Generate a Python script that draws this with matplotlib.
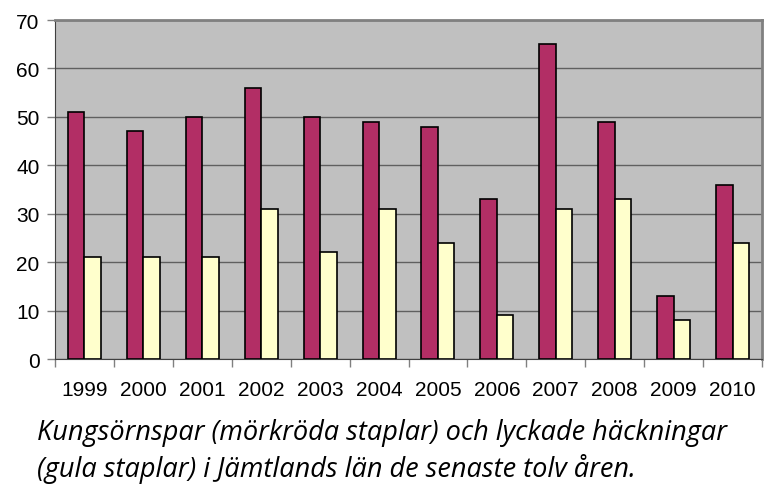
import matplotlib
matplotlib.use('Agg')
import matplotlib.pyplot as plt
import numpy as np

years = ['1999', '2000', '2001', '2002', '2003', '2004',
         '2005', '2006', '2007', '2008', '2009', '2010']
pairs = [51, 47, 50, 56, 50, 49, 48, 33, 65, 49, 13, 36]      # kungsörnspar
success = [21, 21, 21, 31, 22, 31, 24, 9, 31, 33, 8, 24]     # lyckade häckningar

fig = plt.figure(figsize=(7.64, 4.85), dpi=100)
ax = fig.add_axes([55/764, 1 - 360/485, 707/764, 339/485])
ax.set_facecolor('#C0C0C0')

x = np.arange(len(years))
w = 0.28
ax.bar(x - w/2, pairs, w, color='#B22E65', edgecolor='black', linewidth=1.2, zorder=3)
ax.bar(x + w/2, success, w, color='#FFFFCC', edgecolor='black', linewidth=1.2, zorder=3)

ax.set_xlim(-0.5, len(years) - 0.5)
ax.set_ylim(0, 70)
ax.set_yticks(range(0, 71, 10))
ax.yaxis.grid(True, color='#606060', linewidth=1, zorder=1)

ax.set_xticks(x)
ax.set_xticklabels(years, fontsize=15, family='Liberation Sans')
ax.tick_params(axis='x', length=0, pad=15)
ax.set_xticks(np.arange(-0.5, len(years) + 0.5, 1), minor=True)
ax.tick_params(axis='x', which='minor', length=6, color='#808080', width=1)
ax.tick_params(axis='y', length=6, color='#808080', width=1, labelsize=15, pad=5)
for lab in ax.get_yticklabels():
    lab.set_family('Liberation Sans')

for s in ['top', 'right']:
    ax.spines[s].set_color('#808080')
    ax.spines[s].set_linewidth(2)
ax.spines['left'].set_color('#404040')
ax.spines['bottom'].set_color('#404040')

fig.text(37/764, 1 - 440/485, 'Kungsörnspar (mörkröda staplar) och lyckade häckningar',
         fontsize=19.5, style='italic', family='Open Sans', va='baseline')
fig.text(37/764, 1 - 477/485, '(gula staplar) i Jämtlands län de senaste tolv åren.',
         fontsize=19.5, style='italic', family='Open Sans', va='baseline')

fig.savefig('out.png', dpi=100)
